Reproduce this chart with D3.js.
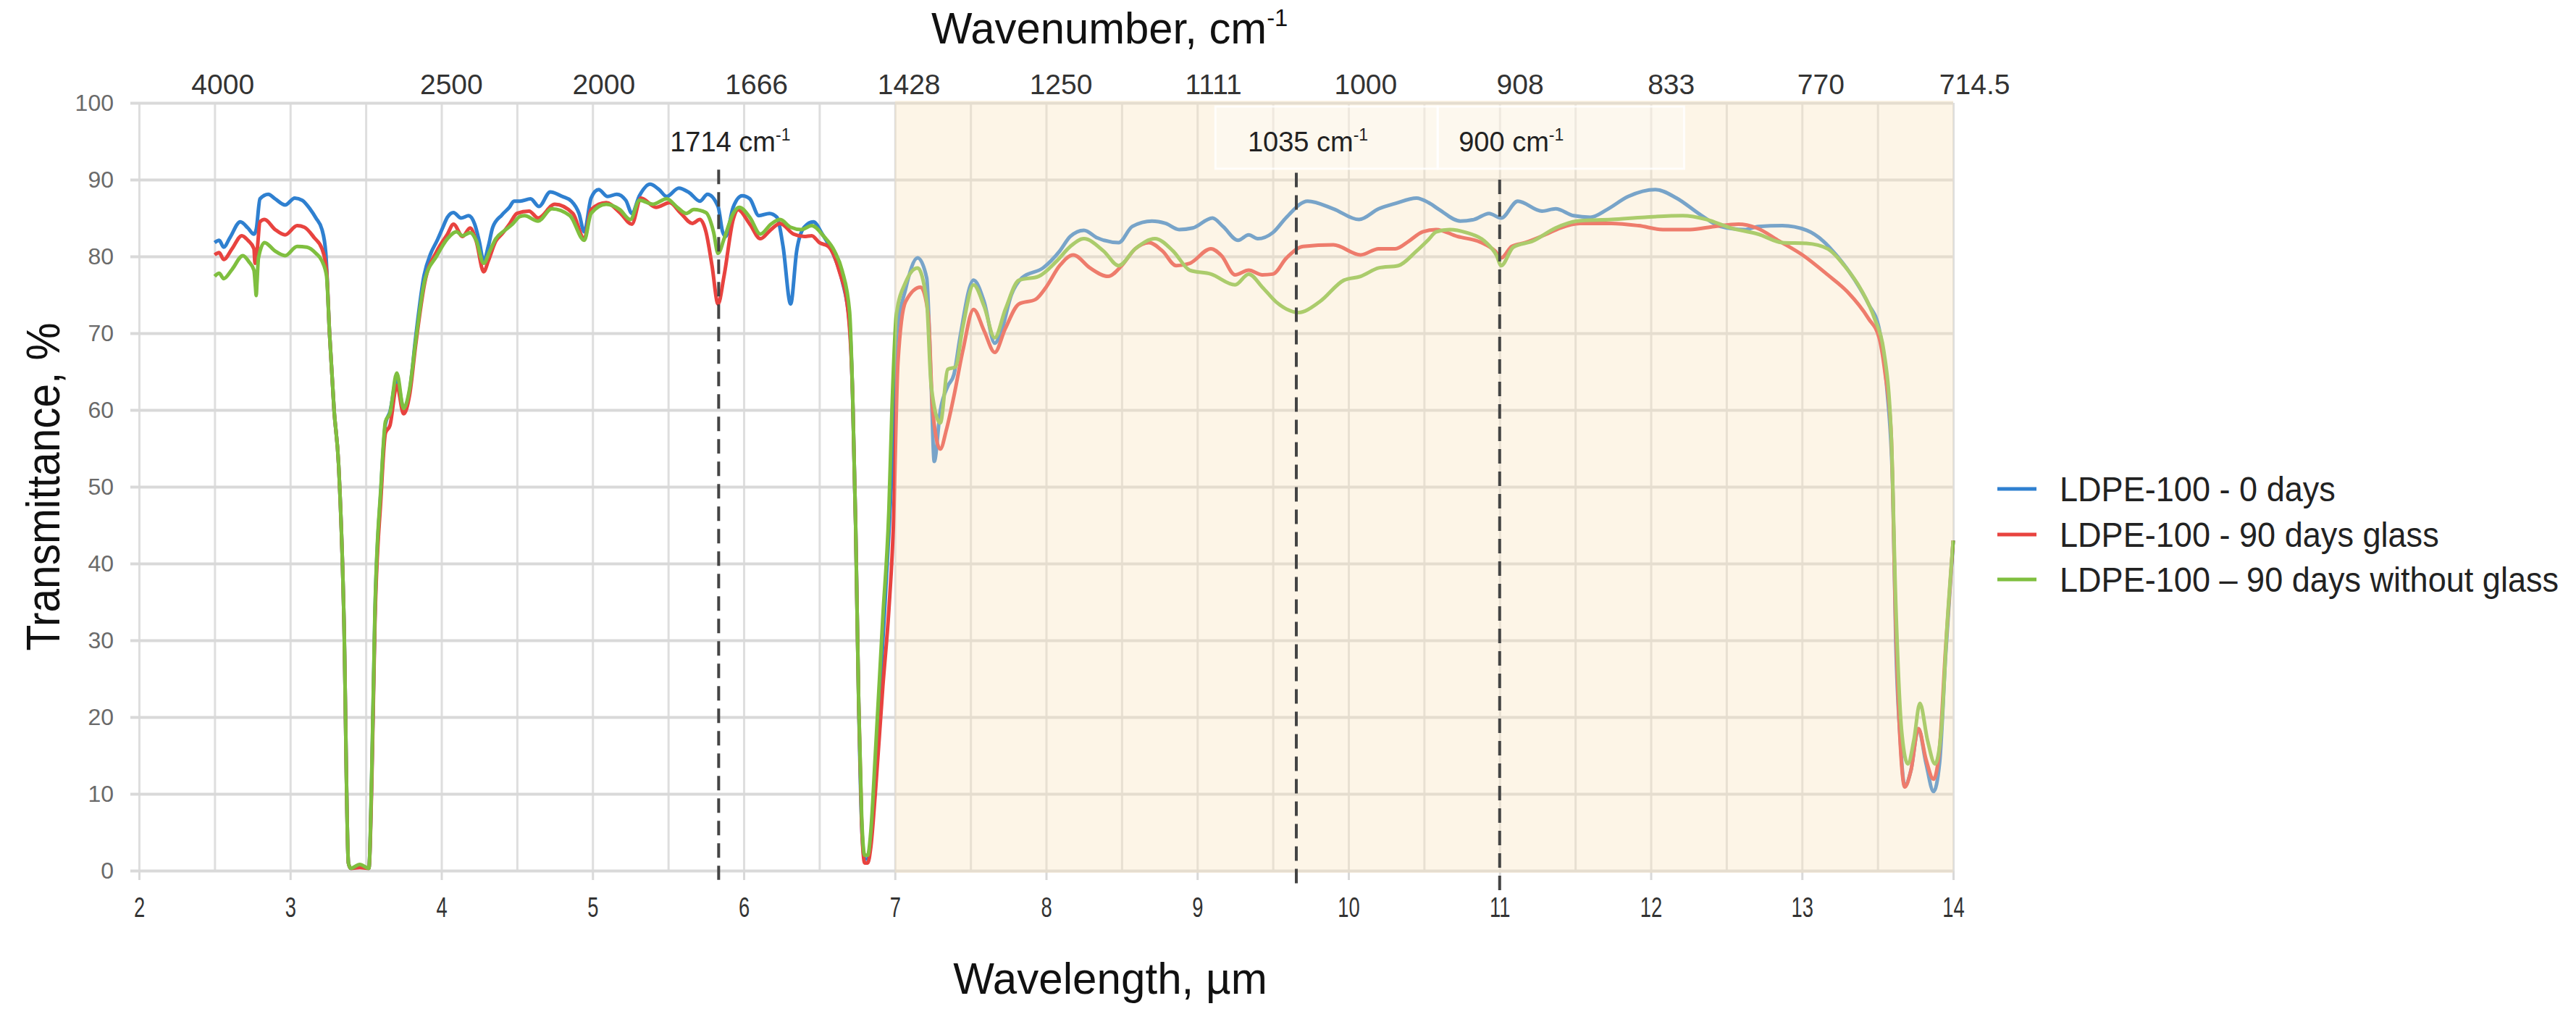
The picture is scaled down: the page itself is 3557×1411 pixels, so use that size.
<!DOCTYPE html>
<html>
<head>
<meta charset="utf-8">
<script src="https://cdn.jsdelivr.net/npm/d3@7"></script>
<style>
  html, body { margin: 0; padding: 0; background: #fff; }
  svg { display: block; }
</style>
</head>
<body>
<svg id="chart" width="3557" height="1411"></svg>
<script>
// ---------------- DATA ----------------
const seriesNames = ["LDPE-100 - 0 days", "LDPE-100 - 90 days glass", "LDPE-100 \u2013 90 days without glass"];
const seriesColors = ["#2f80d0", "#e8433f", "#7fbf3f"];

// [wavelength µm, transmittance %]
const days0 = [[2.50,81.8],[2.53,82.1],[2.56,81.2],[2.60,82.4],[2.67,84.5],[2.72,83.7],[2.76,82.9],[2.775,83.5],[2.80,87.5],[2.855,88.1],[2.90,87.5],[2.966,86.7],[3.03,87.6],[3.08,87.3],[3.13,86.2],[3.17,85.0],[3.21,83.5],[3.235,80.5],[3.26,70],[3.29,60],[3.32,52.9],[3.355,33],[3.385,1],[3.40,0.3],[3.46,0.5],[3.52,0.3],[3.54,13],[3.56,33],[3.60,49.6],[3.63,58.2],[3.66,59.8],[3.705,64.1],[3.75,60.2],[3.79,62.5],[3.83,69.5],[3.885,77.5],[3.93,80.4],[3.97,82.0],[4.01,83.8],[4.04,85.1],[4.08,85.7],[4.13,85.0],[4.18,85.3],[4.22,84.2],[4.25,82.0],[4.28,79.4],[4.31,81.3],[4.34,83.8],[4.40,85.4],[4.45,86.4],[4.48,87.2],[4.52,87.2],[4.59,87.5],[4.645,86.5],[4.72,88.4],[4.80,87.8],[4.86,87.2],[4.91,85.6],[4.945,83.2],[4.99,87.6],[5.04,88.7],[5.10,87.8],[5.16,88.1],[5.22,87.3],[5.26,85.6],[5.31,87.9],[5.38,89.4],[5.44,88.7],[5.49,87.8],[5.57,88.9],[5.64,88.3],[5.71,87.2],[5.76,88.1],[5.83,86.5],[5.86,83.2],[5.88,82.6],[5.93,86.4],[5.99,87.9],[6.04,87.5],[6.10,85.3],[6.17,85.6],[6.22,85.1],[6.26,81.3],[6.31,73.8],[6.35,80.7],[6.40,83.8],[6.46,84.5],[6.52,82.9],[6.59,80.4],[6.65,76.9],[6.70,71.2],[6.72,62],[6.74,45],[6.76,22],[6.78,6],[6.80,1.5],[6.82,1.5],[6.84,4],[6.87,12],[6.92,30],[6.96,44],[6.98,52],[7.01,69.4],[7.07,75.7],[7.15,79.8],[7.21,77.2],[7.24,63.1],[7.26,53.3],[7.30,59.9],[7.35,63.1],[7.39,64.6],[7.43,69.4],[7.52,76.9],[7.59,74.1],[7.66,68.7],[7.70,70.0],[7.77,75.0],[7.84,77.2],[7.98,78.5],[8.09,80.7],[8.16,82.6],[8.25,83.4],[8.34,82.4],[8.48,81.8],[8.57,83.9],[8.70,84.6],[8.79,84.3],[8.88,83.5],[8.97,83.7],[9.10,85.0],[9.17,83.9],[9.27,82.1],[9.34,82.8],[9.40,82.3],[9.50,83.1],[9.59,85.1],[9.73,87.2],[9.90,86.2],[10.07,84.8],[10.20,86.2],[10.31,86.9],[10.45,87.6],[10.53,87.0],[10.60,86.1],[10.74,84.6],[10.83,84.8],[10.93,85.6],[11.01,85.0],[11.12,87.2],[11.28,85.9],[11.37,86.2],[11.49,85.3],[11.60,85.1],[11.71,86.1],[11.85,87.8],[12.03,88.7],[12.17,87.6],[12.33,85.4],[12.46,83.9],[12.62,83.5],[12.71,83.9],[12.87,84.0],[13.03,83.4],[13.14,82.0],[13.23,80.1],[13.35,76.9],[13.44,73.8],[13.51,70.6],[13.56,63.1],[13.60,50],[13.62,30],[13.65,17],[13.68,11],[13.72,13],[13.77,18.5],[13.82,14],[13.87,10.3],[13.91,14],[13.95,28],[14.0,43]];

const days90glass = [[2.50,80.2],[2.53,80.5],[2.56,79.6],[2.615,81.0],[2.68,82.7],[2.72,82.1],[2.76,81.0],[2.767,79.1],[2.78,80.5],[2.80,84.5],[2.83,84.8],[2.90,83.5],[2.966,82.8],[3.046,84.0],[3.094,83.8],[3.16,82.4],[3.21,81.0],[3.24,78.2],[3.26,70],[3.29,60],[3.32,52.9],[3.355,33],[3.385,1],[3.40,0.3],[3.46,0.4],[3.52,0.3],[3.54,12],[3.56,32],[3.60,48.5],[3.63,57],[3.66,58],[3.705,63.2],[3.75,59.5],[3.79,62],[3.83,68.5],[3.89,76.6],[3.97,80.7],[4.04,82.9],[4.08,84.2],[4.14,82.6],[4.19,83.7],[4.23,82.0],[4.28,78.0],[4.31,79.4],[4.36,82.0],[4.40,82.9],[4.45,84.2],[4.50,85.6],[4.58,85.9],[4.64,85.0],[4.75,86.8],[4.87,85.6],[4.945,82.3],[4.99,86.1],[5.09,87.0],[5.18,85.7],[5.26,84.2],[5.32,87.6],[5.42,86.4],[5.51,87.0],[5.58,85.7],[5.66,84.3],[5.71,84.8],[5.75,83.2],[5.79,78.8],[5.83,73.8],[5.87,77.5],[5.93,84.8],[5.96,86.1],[6.04,84.2],[6.11,82.3],[6.18,83.5],[6.24,84.3],[6.33,82.9],[6.40,82.6],[6.45,82.7],[6.50,81.8],[6.56,81.3],[6.63,78.2],[6.69,72.8],[6.72,62],[6.74,45],[6.76,22],[6.78,6],[6.80,1.0],[6.82,1.0],[6.84,3],[6.87,10],[6.92,24],[6.96,34],[6.99,45],[7.02,66.2],[7.07,74.1],[7.17,76.0],[7.22,72.5],[7.25,59.9],[7.30,54.9],[7.34,57.4],[7.39,61.8],[7.45,67.8],[7.52,73.1],[7.59,70.3],[7.66,67.5],[7.73,70.6],[7.82,73.8],[7.93,74.4],[8.00,76.0],[8.09,78.8],[8.18,80.2],[8.29,78.5],[8.41,77.4],[8.50,78.8],[8.59,81.0],[8.68,81.8],[8.77,80.7],[8.86,78.8],[8.95,79.1],[9.09,81.0],[9.16,80.1],[9.25,77.6],[9.34,78.2],[9.43,77.6],[9.50,77.7],[9.59,79.8],[9.70,81.3],[9.90,81.5],[10.08,80.2],[10.20,81.0],[10.31,81.0],[10.40,82.0],[10.49,83.2],[10.58,83.5],[10.72,82.6],[10.88,81.8],[10.97,80.7],[11.01,79.8],[11.08,81.3],[11.17,81.8],[11.31,82.9],[11.40,83.7],[11.53,84.3],[11.74,84.3],[11.92,84.0],[12.08,83.5],[12.26,83.5],[12.42,83.9],[12.58,84.2],[12.70,83.7],[12.85,82.0],[13.01,80.1],[13.17,77.6],[13.30,75.4],[13.44,71.9],[13.51,69.4],[13.55,64.7],[13.59,56.8],[13.62,32],[13.65,16.5],[13.68,10.9],[13.72,13],[13.77,18.5],[13.82,14.5],[13.87,11.9],[13.91,16],[13.95,29],[14.0,43]];

const days90noGlass = [[2.50,77.4],[2.53,77.8],[2.56,77.1],[2.615,78.3],[2.687,80.1],[2.727,79.3],[2.76,78.2],[2.77,76],[2.775,74.9],[2.78,76.5],[2.79,79.8],[2.83,81.8],[2.90,80.7],[2.966,80.1],[3.046,81.3],[3.11,81.2],[3.17,80.4],[3.21,79.4],[3.24,77.5],[3.26,70],[3.29,60],[3.32,52.9],[3.355,33],[3.385,1],[3.40,0.3],[3.46,0.8],[3.52,0.3],[3.54,13.5],[3.56,33.5],[3.60,50],[3.63,58.5],[3.66,59.6],[3.705,64.8],[3.75,60.2],[3.79,62.8],[3.83,69],[3.89,76.9],[3.97,80.1],[4.04,82.3],[4.10,83.2],[4.14,82.7],[4.19,83.1],[4.23,82.1],[4.28,79.1],[4.32,80.7],[4.36,82.3],[4.42,83.4],[4.47,84.2],[4.52,85.2],[4.55,85.3],[4.64,84.6],[4.73,86.2],[4.85,85.3],[4.945,82.1],[4.99,85.6],[5.09,86.8],[5.18,86.1],[5.25,84.8],[5.31,87.3],[5.40,86.8],[5.49,87.5],[5.56,86.4],[5.62,85.6],[5.67,86.1],[5.75,85.7],[5.80,83.2],[5.83,80.4],[5.87,82.3],[5.93,85.6],[5.97,86.4],[6.04,85.1],[6.11,82.9],[6.18,84.2],[6.24,84.8],[6.31,83.8],[6.38,83.5],[6.45,84.0],[6.53,82.6],[6.60,80.7],[6.65,78.2],[6.70,72.8],[6.72,62],[6.74,45],[6.76,22],[6.78,7],[6.80,2],[6.82,2],[6.84,5],[6.87,15],[6.92,33],[6.96,47],[6.98,59.9],[7.01,72.5],[7.07,76.6],[7.15,78.5],[7.21,74.1],[7.24,63.1],[7.30,58.3],[7.35,65.3],[7.40,65.6],[7.45,70.9],[7.52,76.3],[7.59,73.5],[7.66,69.4],[7.73,73.1],[7.82,76.9],[7.95,77.4],[8.07,79.4],[8.16,81.3],[8.25,82.3],[8.38,80.7],[8.48,78.8],[8.59,81.0],[8.72,82.3],[8.84,80.7],[8.95,78.2],[9.09,77.7],[9.25,76.3],[9.34,77.7],[9.43,76.0],[9.52,74.1],[9.67,72.7],[9.81,74.1],[9.97,76.9],[10.08,77.4],[10.20,78.5],[10.33,78.8],[10.45,80.7],[10.53,82.2],[10.58,83.2],[10.67,83.5],[10.78,83.1],[10.90,82.0],[10.98,80.1],[11.01,78.8],[11.09,81.2],[11.22,82.0],[11.37,83.7],[11.51,84.6],[11.74,84.8],[11.96,85.1],[12.21,85.3],[12.37,84.8],[12.53,83.7],[12.71,82.9],[12.87,81.8],[13.03,81.7],[13.17,81.0],[13.28,78.8],[13.39,75.7],[13.48,71.9],[13.54,67.8],[13.59,56.8],[13.62,35],[13.66,18],[13.70,13.9],[13.74,17],[13.78,21.8],[13.83,17],[13.88,13.9],[13.92,18],[13.96,32],[14.0,43]];

const seriesData = [days0, days90glass, days90noGlass];

const xTicks = [2,3,4,5,6,7,8,9,10,11,12,13,14];
const yTicks = [0,10,20,30,40,50,60,70,80,90,100];
const wavenumberLabels = [4000, 2500, 2000, 1666, 1428, 1250, 1111, 1000, 908, 833, 770, 714.5];
const shadedRange = [7, 14];
// marker lines: label, wavelength position, top/bottom in % units
const markerLabels = ["1714", "1035", "900"];
const markerWavelengths = [5.834, 9.655, 11.0];
const markerTops = [91.3, 90.9, 90.0];
const markerBottoms = [-1.2, -1.7, -2.8];

// ---------------- LAYOUT ----------------
const W = 3557, H = 1411;
const plot = {left: 192, right: 2697, top: 142, bottom: 1202};
const FONT = "'Liberation Sans', Arial, sans-serif";
const GRID = "#d9d9d9";

const svg = d3.select("#chart");
const x = d3.scaleLinear().domain([2, 14]).range([plot.left, plot.right]);
const y = d3.scaleLinear().domain([0, 100]).range([plot.bottom, plot.top]);
const xTop = d3.scaleLinear().domain([2, 14]).range([plot.left + 10, plot.right + 30]);

// vertical grid (every 0.5 µm)
const halfTicks = d3.range(2, 14.001, 0.5);
const vgrid = svg.append("g").attr("transform", `translate(0,${plot.bottom})`)
  .call(d3.axisBottom(x).tickValues(halfTicks).tickSize(-(plot.bottom - plot.top)).tickFormat(""));
vgrid.select(".domain").remove();
vgrid.selectAll("line").attr("stroke", "#dedede").attr("stroke-width", 3);

// horizontal grid + left labels
const yAxis = svg.append("g").attr("transform", `translate(${plot.left - 12},0)`)
  .call(d3.axisLeft(y).tickValues(yTicks).tickSize(-(plot.right - plot.left + 12)).tickPadding(23));
yAxis.select(".domain").remove();
yAxis.selectAll("line").attr("stroke", GRID).attr("stroke-width", 4);
yAxis.selectAll("text").attr("font-family", FONT).attr("font-size", 32).attr("fill", "#6a6a6a");

// bottom axis ticks + labels
const xAxis = svg.append("g").attr("transform", `translate(0,${plot.bottom})`)
  .call(d3.axisBottom(x).tickValues(xTicks).tickSize(13).tickPadding(24).tickFormat(d3.format("d")));
xAxis.select(".domain").remove();
xAxis.selectAll("line").attr("stroke", GRID).attr("stroke-width", 3);
xAxis.selectAll("text").attr("font-family", FONT).attr("font-size", 38).attr("fill", "#333")
  .attr("transform", "scale(0.72,1)");

// top wavenumber labels
const topAxis = svg.append("g").attr("transform", `translate(0,130)`)
  .call(d3.axisTop(xTop).tickValues(wavenumberLabels.map(n => 10000 / n)).tickSize(0).tickPadding(0)
    .tickFormat((d, i) => wavenumberLabels[i]));
topAxis.select(".domain").remove();
topAxis.selectAll("text").attr("font-family", FONT).attr("font-size", 39).attr("fill", "#333");

// series lines
const line = d3.line().x(d => x(d[0])).y(d => y(d[1])).curve(d3.curveMonotoneX);
svg.append("g").selectAll("path").data(seriesData).join("path")
  .attr("d", line).attr("fill", "none")
  .attr("stroke", (d, i) => seriesColors[i]).attr("stroke-width", 5)
  .attr("stroke-linejoin", "round");

// shaded overlay 7–14 µm
svg.append("rect")
  .attr("x", x(shadedRange[0])).attr("width", x(shadedRange[1]) - x(shadedRange[0]))
  .attr("y", y(100) - 3).attr("height", y(0) - y(100) + 6)
  .attr("fill", "rgb(249,226,189)").attr("opacity", 0.36);

// label boxes for 1035 / 900
const boxBounds = [[9.12, 10.59], [10.59, 12.22]];
svg.append("g").selectAll("rect").data(boxBounds).join("rect")
  .attr("x", d => x(d[0])).attr("width", d => x(d[1]) - x(d[0]))
  .attr("y", 147).attr("height", 86)
  .attr("fill", "#fff").attr("fill-opacity", 0.3)
  .attr("stroke", "#fff").attr("stroke-opacity", 0.8).attr("stroke-width", 3);

// dashed marker lines
svg.append("g").selectAll("line").data(markerWavelengths).join("line")
  .attr("x1", d => x(d)).attr("x2", d => x(d))
  .attr("y1", (d, i) => y(markerTops[i])).attr("y2", (d, i) => y(markerBottoms[i]))
  .attr("stroke", "#444").attr("stroke-width", 4).attr("stroke-dasharray", "20,11");

// marker labels
const ml = svg.append("g").selectAll("text").data(markerWavelengths).join("text")
  .attr("x", d => x(d) + 16).attr("y", 209)
  .attr("text-anchor", "middle").attr("font-family", FONT).attr("font-size", 38).attr("fill", "#222");
ml.append("tspan").text((d, i) => markerLabels[i] + " cm");
ml.append("tspan").attr("dy", -15).attr("font-size", 23).text("-1");

// titles
function scaledText(tx, ty, sx, rotate) {
  return svg.append("g").attr("transform", `translate(${tx},${ty})` + (rotate ? ` rotate(${rotate})` : "") + ` scale(${sx},1)`)
    .append("text").attr("font-family", FONT).attr("fill", "#111");
}
const tTop = scaledText(1286, 60, 0.965).attr("font-size", 62);
tTop.append("tspan").text("Wavenumber, cm");
tTop.append("tspan").attr("dy", -24).attr("font-size", 34).text("-1");

scaledText(1533, 1372, 0.97).attr("font-size", 62).attr("text-anchor", "middle").text("Wavelength, \u00b5m");
scaledText(82, 672, 0.9, -90).attr("font-size", 65).attr("text-anchor", "middle").text("Transmittance, %");

// legend
const legendRows = [675, 738, 800];
const leg = svg.append("g");
leg.selectAll("line").data(seriesNames).join("line")
  .attr("x1", 2758).attr("x2", 2812)
  .attr("y1", (d, i) => legendRows[i]).attr("y2", (d, i) => legendRows[i])
  .attr("stroke", (d, i) => seriesColors[i]).attr("stroke-width", 5);
leg.selectAll("g").data(seriesNames).join("g")
  .attr("transform", (d, i) => `translate(2844,${legendRows[i] + 17}) scale(0.92,1)`)
  .append("text").attr("font-family", FONT).attr("font-size", 49).attr("fill", "#222").text(d => d);
</script>
</body>
</html>
